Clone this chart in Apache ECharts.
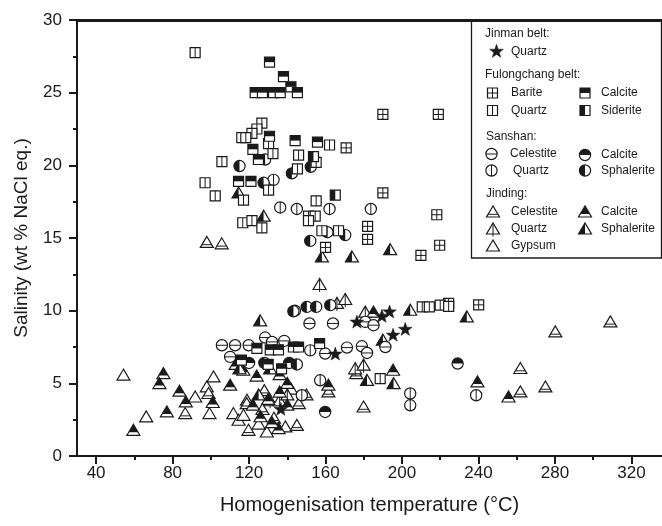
<!DOCTYPE html>
<html><head><meta charset="utf-8">
<script src="https://cdn.jsdelivr.net/npm/echarts@6/dist/echarts.min.js"></script>
<style>html,body{margin:0;padding:0;background:#fff}#c{width:662px;height:526px}</style>
</head><body><div id="c"></div>
<script>
// ---- axis ticks ----
const xTicksMajor = [40, 80, 120, 160, 200, 240, 280, 320];
const xTicksMinor = [60, 100, 140, 180, 220, 260, 300];

// ---- data: [temperature °C, salinity wt% NaCl eq.] ----
const jinmanQuartz = [[193.5,9.9],[189.5,9.6],[176.4,9.2],[195.3,8.3],[201.7,8.7],[165.1,7.0],[136.6,3.2]];

const fulongBarite = [[190,23.5],[219,23.5],[170.8,21.2],[190,18.1],[218.2,16.6],[182,15.8],[182,14.9],[160,14.35],[219.7,14.5],[209.9,13.8],[224.4,10.5],[240.1,10.4]];
const fulongQuartz = [[91.8,27.75],[126.7,22.9],[124.1,22.5],[121.5,22.2],[116.2,21.9],[118.3,21.9],[130.2,21.5],[132.5,20.8],[105.8,20.25],[97.0,18.8],[102.3,17.9],[130.2,18.3],[117.1,17.6],[116.7,16.05],[121.5,16.2],[126.7,15.7],[145.3,19.75],[145.9,20.7],[155.1,20.2],[162.1,21.4],[155.1,17.56],[151.1,16.5],[154.6,16.5],[151.1,16.2],[158.1,15.5],[166.8,15.5],[210.6,10.26],[214.3,10.26],[220,10.38],[224.4,10.3],[188.6,5.33]];
const fulongCalcite = [[130.7,27.1],[138.0,26.1],[141.9,25.4],[145.3,25.0],[123.2,25.0],[127.0,25.0],[132.8,25.0],[136.3,25.0],[130.7,22.0],[122,21.1],[124.9,20.4],[114.5,18.9],[121.0,18.9],[144.1,21.7],[155.8,21.6],[124.1,7.4],[131.1,7.3],[135.4,7.3],[143.2,7.5],[145.9,7.5],[156.9,7.74],[116,6.6],[130,6.3],[137,6.0]];
const fulongSiderite = [[165.1,17.95],[153.7,20.6]];

const sanshanCelestite = [[105.8,7.62],[112.7,7.62],[119.8,7.62],[128.4,8.15],[110.1,6.82],[132,7.85],[138.4,7.92],[159.8,7.05],[171.2,7.46],[179.0,7.55],[181.7,7.09],[151.6,9.12],[163.9,9.12],[180.8,9.23],[185.1,9.0],[191.3,7.5]];
const sanshanQuartz = [[136.3,17.1],[145.0,17.0],[162.1,17.0],[183.7,17.0],[132.8,19.0],[157.2,5.21],[204.3,4.3],[204.3,3.49],[147.6,4.18],[238.8,4.18],[152,7.27],[144,10.0]];
const sanshanCalcite = [[159.8,3.03],[229.1,6.36],[120,6.4],[141,6.4]];
const sanshanSphalerite = [[115,19.95],[127.6,18.8],[128.4,20.4],[142.4,19.45],[152.3,19.9],[161.0,15.4],[170.3,15.2],[152.0,14.8],[143.2,9.96],[150.2,10.26],[155.1,10.26],[162.5,10.38],[128,6.4],[145,6.3]];

const jindingCelestite = [[97.9,14.7],[105.7,14.6],[86.6,2.92],[98.8,4.3],[118.9,3.84],[161.5,4.41],[179.9,3.37],[145.0,2.11],[119.7,1.77],[118.8,3.6],[261.9,4.41],[261.9,6.02],[275.0,4.75],[280.2,8.54],[309.0,9.23],[176.1,5.67],[127,3.2],[133,2.6],[128,4.5],[150,4.2],[146,3.6]];
const jindingQuartz = [[156.9,11.8],[166.0,10.5],[170.3,10.77],[180.8,9.9],[175.5,6.0],[179.9,6.25],[131,3.8],[136,3.8],[140,4.2]];
const jindingGypsum = [[54.3,5.56],[66.2,2.69],[91.8,4.06],[97.9,4.75],[101.4,5.44],[99.3,2.92],[111.8,2.92],[114.5,2.46],[117.1,2.8],[129.3,1.65],[142,4.6],[125,2.2],[139,2.0]];
const jindingCalcite = [[59.5,1.77],[75.2,5.67],[73.1,4.98],[77.0,3.03],[83.6,4.46],[86.9,3.72],[101.0,3.68],[110.1,4.87],[185.1,9.9],[195.3,5.9],[239.5,5.1],[255.7,4.06],[135.4,1.89],[161.5,4.87],[113,6.3],[117,5.9],[124,5.5],[136,5.6],[140,5.0],[122,3.5],[130,3.9],[136,4.4],[140,3.5],[126,2.7],[132,2.3]];
const jindingSphalerite = [[125.8,9.3],[158.1,13.7],[173.8,13.7],[193.8,14.2],[127.6,16.5],[114.5,18.1],[204.3,10.03],[190.0,7.97],[181.7,5.2],[195.6,4.98],[233.9,9.57],[115,6.0],[131,6.0],[125,4.2]];

// ---- symbol drawing ----
const INK = '#1a1a1a';
const FONT = '"Liberation Sans", Arial, sans-serif';
function ln(x1,y1,x2,y2,w){return {type:'line',shape:{x1:x1,y1:y1,x2:x2,y2:y2},style:{stroke:INK,lineWidth:w||1}};}
function shapeEls(kind, cx, cy){
  const e = [];
  const t = kind.slice(0,2);
  if (kind === 'star') {
    const pts = [];
    for (let i=0;i<10;i++){
      const r = i%2===0 ? 7.2 : 2.9;
      const a = -Math.PI/2 + i*Math.PI/5;
      pts.push([cx + r*Math.cos(a), cy + r*Math.sin(a)]);
    }
    e.push({type:'polygon',shape:{points:pts},style:{fill:INK,stroke:INK,lineWidth:0.5}});
    return e;
  }
  if (t === 'sq') {
    const s = 5;
    e.push({type:'rect',shape:{x:cx-s,y:cy-s,width:2*s,height:2*s},style:{fill:'#fff',stroke:null}});
    if (kind==='sqCalcite') e.push({type:'rect',shape:{x:cx-s,y:cy-s,width:2*s,height:s},style:{fill:INK}});
    if (kind==='sqSiderite') e.push({type:'rect',shape:{x:cx-s,y:cy-s,width:s,height:2*s},style:{fill:INK}});
    if (kind==='sqBarite'){ e.push(ln(cx,cy-s,cx,cy+s,1)); e.push(ln(cx-s,cy,cx+s,cy,1)); }
    if (kind==='sqQuartz'){ e.push(ln(cx,cy-s,cx,cy+s,1)); }
    e.push({type:'rect',shape:{x:cx-s,y:cy-s,width:2*s,height:2*s},style:{fill:null,stroke:INK,lineWidth:1.2}});
    return e;
  }
  if (t === 'ci') {
    const r = 5.6;
    e.push({type:'circle',shape:{cx:cx,cy:cy,r:r},style:{fill:'#fff',stroke:null}});
    if (kind==='ciCalcite') e.push({type:'sector',shape:{cx:cx,cy:cy,r0:0,r:r,startAngle:Math.PI,endAngle:2*Math.PI,clockwise:true},style:{fill:INK}});
    if (kind==='ciSphalerite') e.push({type:'sector',shape:{cx:cx,cy:cy,r0:0,r:r,startAngle:Math.PI/2,endAngle:3*Math.PI/2,clockwise:true},style:{fill:INK}});
    if (kind==='ciCelestite') e.push(ln(cx-r,cy,cx+r,cy,1));
    if (kind==='ciQuartz') e.push(ln(cx,cy-r,cx,cy+r,1));
    e.push({type:'circle',shape:{cx:cx,cy:cy,r:r},style:{fill:null,stroke:INK,lineWidth:1.2}});
    return e;
  }
  // triangles
  const top = cy-6, bot = cy+5, hw = 6.5;
  const tri = [[cx,top],[cx-hw,bot],[cx+hw,bot]];
  e.push({type:'polygon',shape:{points:tri},style:{fill:'#fff',stroke:null}});
  if (kind==='trCalcite'){
    const yb = cy+2, f = (yb-top)/(bot-top)*hw;
    e.push({type:'polygon',shape:{points:[[cx,top],[cx-f,yb],[cx+f,yb]]},style:{fill:INK}});
  }
  if (kind==='trSphalerite') e.push({type:'polygon',shape:{points:[[cx,top],[cx-hw,bot],[cx,bot]]},style:{fill:INK}});
  if (kind==='trCelestite'){
    const yb = cy+2.3, f = (yb-top)/(bot-top)*hw;
    e.push(ln(cx-f,yb,cx+f,yb,1));
  }
  if (kind==='trQuartz') e.push(ln(cx,top,cx,bot+2.5,1));
  e.push({type:'polygon',shape:{points:tri},style:{fill:null,stroke:INK,lineWidth:1.2}});
  return e;
}

function mk(kind, data, name){
  return {
    type:'custom', name:name, coordinateSystem:'cartesian2d', xAxisIndex:0, yAxisIndex:0,
    data:data, silent:true, clip:true,
    renderItem:function(p, api){
      const c = api.coord([api.value(0), api.value(1)]);
      return {type:'group', children:shapeEls(kind, c[0], c[1])};
    }
  };
}

// ---- legend (drawn as graphic) ----
function legendEls(){
  const el = [];
  el.push({type:'rect',shape:{x:471.5,y:20,width:190,height:238},style:{fill:'#fff',stroke:INK,lineWidth:1.3}});
  const txt = (s,x,y)=>({type:'text',style:{text:s,x:x,y:y,fill:INK,font:'12px '+FONT,align:'left',verticalAlign:'middle'}});
  const sym = (k,x,y)=>({type:'group',children:shapeEls(k,x,y)});
  el.push(txt('Jinman belt:',485,34));
  el.push(sym('star',496.5,51.5)); el.push(txt('Quartz',511,52));
  el.push(txt('Fulongchang belt:',485,74.5));
  el.push(sym('sqBarite',492.5,93)); el.push(txt('Barite',511,93));
  el.push(sym('sqCalcite',585,93)); el.push(txt('Calcite',601,93));
  el.push(sym('sqQuartz',492.5,110.5)); el.push(txt('Quartz',511,110.5));
  el.push(sym('sqSiderite',585,110.5)); el.push(txt('Siderite',601,110.5));
  el.push(txt('Sanshan:',486,137));
  el.push(sym('ciCelestite',491.5,154)); el.push(txt('Celestite',510,154));
  el.push(sym('ciCalcite',585,155)); el.push(txt('Calcite',601,155));
  el.push(sym('ciQuartz',491.5,170.5)); el.push(txt('Quartz',513,171));
  el.push(sym('ciSphalerite',585,170.5)); el.push(txt('Sphalerite',601,171));
  el.push(txt('Jinding:',486,194));
  el.push(sym('trCelestite',493,212)); el.push(txt('Celestite',511,212));
  el.push(sym('trCalcite',585,212)); el.push(txt('Calcite',601,212));
  el.push(sym('trQuartz',493,229)); el.push(txt('Quartz',511,229));
  el.push(sym('trSphalerite',585,229)); el.push(txt('Sphalerite',601,229));
  el.push(sym('trGypsum',493,246)); el.push(txt('Gypsum',511,246));
  return el;
}

const chart = echarts.init(document.getElementById('c'), null, {renderer:'canvas'});
const axisTxt = {color:INK, fontSize:17, fontFamily:FONT};
chart.setOption({
  animation:false,
  backgroundColor:'#fff',
  grid:{left:77, top:20, right:0, bottom:70, containLabel:false},
  xAxis:[
    {type:'value', min:30, max:336, position:'bottom',
     name:'Homogenisation temperature (°C)', nameLocation:'middle', nameGap:39,
     nameTextStyle:{color:INK, fontSize:20, fontFamily:FONT},
     axisLine:{show:true, onZero:false, lineStyle:{color:INK, width:2}},
     axisTick:{show:true, customValues:xTicksMajor, length:8, lineStyle:{color:INK, width:2}},
     axisLabel:{show:true, customValues:xTicksMajor, margin:9, ...axisTxt},
     splitLine:{show:false}},
    {type:'value', min:30, max:336, position:'bottom',
     axisLine:{show:false},
     axisTick:{show:true, customValues:xTicksMinor, length:4, lineStyle:{color:INK, width:2}},
     axisLabel:{show:false}, splitLine:{show:false}},
    {type:'value', min:30, max:336, position:'top',
     axisLine:{show:true, onZero:false, lineStyle:{color:INK, width:3}},
     axisTick:{show:false}, axisLabel:{show:false}, splitLine:{show:false}}
  ],
  yAxis:[
    {type:'value', min:0, max:30, interval:5, position:'left',
     name:'Salinity (wt % NaCl eq.)', nameLocation:'middle', nameGap:46,
     nameTextStyle:{color:INK, fontSize:19, fontFamily:FONT},
     axisLine:{show:true, onZero:false, lineStyle:{color:INK, width:2}},
     axisTick:{show:true, length:8, lineStyle:{color:INK, width:2}},
     minorTick:{show:true, splitNumber:2, length:4, lineStyle:{color:INK, width:2}},
     axisLabel:{margin:15, ...axisTxt},
     splitLine:{show:false}, minorSplitLine:{show:false}}
  ],
  graphic:{elements:[{type:'group', z:100, children:legendEls()}]},
  series:[
    mk('trGypsum', jindingGypsum, 'Jinding Gypsum'),
    mk('trCelestite', jindingCelestite, 'Jinding Celestite'),
    mk('trQuartz', jindingQuartz, 'Jinding Quartz'),
    mk('trCalcite', jindingCalcite, 'Jinding Calcite'),
    mk('trSphalerite', jindingSphalerite, 'Jinding Sphalerite'),
    mk('ciCelestite', sanshanCelestite, 'Sanshan Celestite'),
    mk('ciQuartz', sanshanQuartz, 'Sanshan Quartz'),
    mk('ciCalcite', sanshanCalcite, 'Sanshan Calcite'),
    mk('ciSphalerite', sanshanSphalerite, 'Sanshan Sphalerite'),
    mk('sqBarite', fulongBarite, 'Fulongchang Barite'),
    mk('sqQuartz', fulongQuartz, 'Fulongchang Quartz'),
    mk('sqCalcite', fulongCalcite, 'Fulongchang Calcite'),
    mk('sqSiderite', fulongSiderite, 'Fulongchang Siderite'),
    mk('star', jinmanQuartz, 'Jinman Quartz')
  ]
});
</script></body></html>
